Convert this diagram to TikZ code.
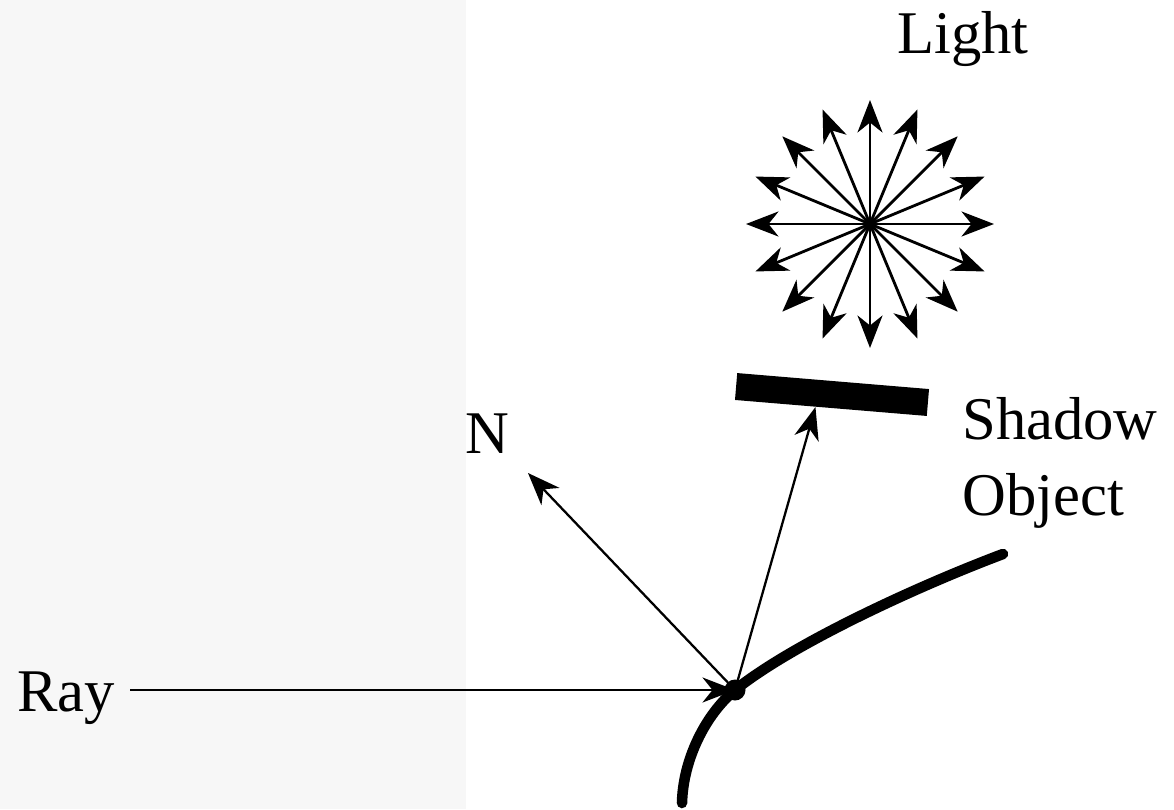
\documentclass[tikz,border=0pt]{standalone}
\usepackage{fontspec}
\setmainfont{Liberation Serif}
\usetikzlibrary{arrows.meta,calc}
\definecolor{panelgray}{RGB}{247,247,247}
\tikzset{ptr/.style={-{Stealth[length=6.5mm, width=5mm, inset=2mm]}, line width=1.3pt},
  beam/.style={ptr, line width=1.6pt},
  surf/.style={line width=6pt, line cap=round},
  lbl/.style={inner sep=0pt, font=\fontsize{34.5}{42.7}\selectfont}}

\begin{document}
\begin{tikzpicture}[x=0.02cm, y=-0.02cm]
  \useasboundingbox (0,0) rectangle (1174,809);
  \fill[panelgray] (0,0) rectangle (466,809);
  % labels
  \node[lbl, anchor=base west] (raylbl) at (17,711) {Ray};
  \node[lbl, anchor=base west] (nlbl) at (465,453) {N};
  \node[lbl, anchor=base west] (lightlbl) at (897,53) {Light};
  \node[lbl, anchor=base west, align=left] (shadowlbl) at (962,515) {Shadow\\Object};
  % light source
  \coordinate (src) at (870,224);
  \foreach \a [count=\i] in {0,22.5,...,337.5}{
    \path (src) ++(\a:124) coordinate (beam\i);
    \draw[beam] (src) -- (beam\i);}
  % shadow object
  \node[fill, inner sep=0pt, minimum width=3.85cm, minimum height=0.54cm, rotate=-4.76] (blocker) at (832,394.5) {};
  % surface and hit point
  \node[circle, fill, inner sep=0pt, minimum size=0.42cm] (hit) at (735,690) {};
  \coordinate (ntip) at (528,473);
  \coordinate (stip) at ($(blocker.south west)!0.42!(blocker.south east)$);
  \draw[ptr] ([xshift=0.3cm]raylbl.east |- hit) -- (hit.center);
  \draw[ptr] (hit.center) -- (ntip);
  \draw[ptr] (hit.center) -- (stip);
  \draw[surf] (682,803) .. controls (683,760) and (705,715) .. (hit.center)
    .. controls (795,642) and (923,584) .. (1003,554);
\end{tikzpicture}
\end{document}
